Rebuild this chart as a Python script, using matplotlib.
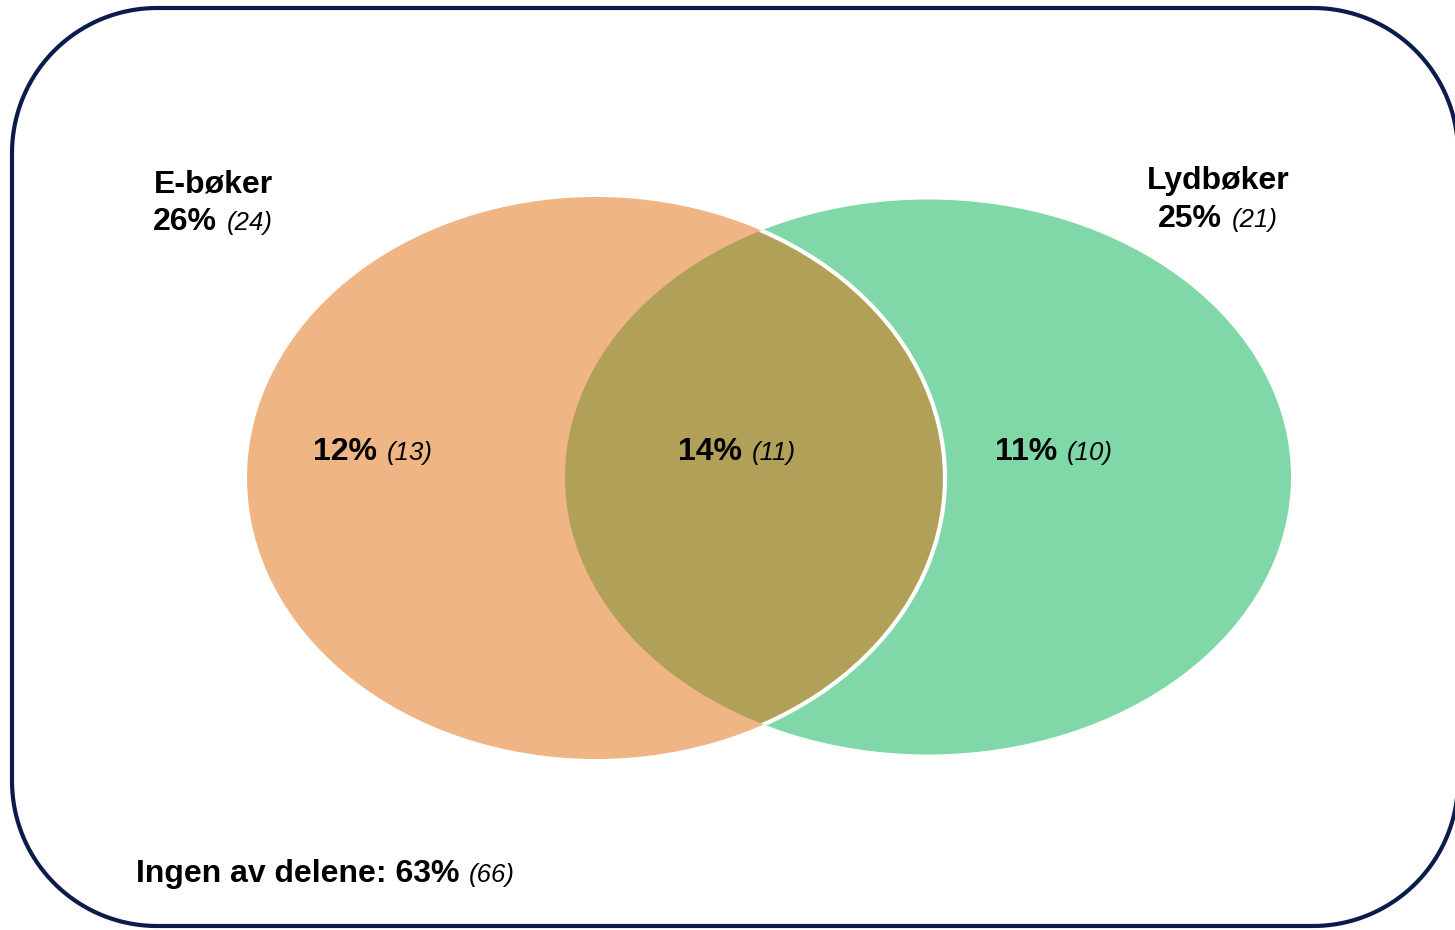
import numpy as np
import matplotlib.pyplot as plt
from matplotlib.patches import Ellipse, PathPatch
from matplotlib.path import Path
from matplotlib.offsetbox import TextArea, HPacker, AnnotationBbox

plt.rcParams['font.family'] = ['Liberation Sans', 'DejaVu Sans']

# data
set_names = ["E-bøker", "Lydbøker"]
set_pct = [26, 25]
set_n = [24, 21]
region_pct = [12, 14, 11]      # kun E-bøker, begge, kun Lydbøker
region_n = [13, 11, 10]
none_label = "Ingen av delene:"
none_pct = 63
none_n = 66

col_left = "#F0B585"
col_right = "#80D8A8"
col_both = "#B1A058"
navy = "#0B1C4C"

fig = plt.figure(figsize=(14.55, 9.30), dpi=100)
ax = fig.add_axes([0, 0, 1, 1])
ax.set_xlim(0, 1455)
ax.set_ylim(930, 0)
ax.set_aspect("equal")
ax.axis("off")


# rammen med runde hjørner
def rounded_rect(x0, y0, x1, y1, r):
    pts = []
    corners = [(x1 - r, y0 + r, -90, 0), (x1 - r, y1 - r, 0, 90),
               (x0 + r, y1 - r, 90, 180), (x0 + r, y0 + r, 180, 270)]
    for cx, cy, a0, a1 in corners:
        t = np.radians(np.linspace(a0, a1, 40))
        pts += list(zip(cx + r * np.cos(t), cy + r * np.sin(t)))
    pts.append(pts[0])
    return Path(pts)


ax.add_patch(PathPatch(rounded_rect(12, 8, 1458, 926, 145), fc="white",
                       ec=navy, lw=3.0, zorder=0))

# sirkler
right = Ellipse((928, 477), 726, 555, fc=col_right, ec="none", zorder=1)
left = Ellipse((596, 478), 698, 562, fc=col_left, ec="none", zorder=2)
ax.add_patch(right)
ax.add_patch(left)
both = Ellipse((596, 478), 698, 562, fc=col_both, ec="none", zorder=3)
ax.add_patch(both)
both.set_clip_path(right)
edge = Ellipse((596, 478), 698, 562, fc="none", ec="white", lw=3, zorder=4)
ax.add_patch(edge)
edge.set_clip_path(right)


def label(x, y, bold, ital, size=23, isize=18.5, align="left"):
    a = TextArea(bold, textprops=dict(fontsize=size, fontweight="bold", color="black"))
    b = TextArea(ital, textprops=dict(fontsize=isize, fontstyle="italic", color="black"))
    box = HPacker(children=[a, b], align="baseline", pad=0, sep=7)
    bx = {"left": 0, "center": 0.5}[align]
    ab = AnnotationBbox(box, (x, y), xycoords="data", box_alignment=(bx, 0.5),
                        frameon=False, pad=0, zorder=6)
    ax.add_artist(ab)


# settnavn
ax.text(213, 184, set_names[0], fontsize=23, fontweight="bold", ha="center", va="center")
label(213, 222, f"{set_pct[0]}%", f"({set_n[0]})", align="center")
ax.text(1218, 181, set_names[1], fontsize=23, fontweight="bold", ha="center", va="center")
label(1218, 219, f"{set_pct[1]}%", f"({set_n[1]})", align="center")

# områder
for x, p, n in zip([373, 737, 1054], region_pct, region_n):
    label(x, 452, f"{p}%", f"({n})", align="center")

label(136, 874, f"{none_label} {none_pct}%", f"({none_n})")

fig.savefig("out.png", dpi=100)
